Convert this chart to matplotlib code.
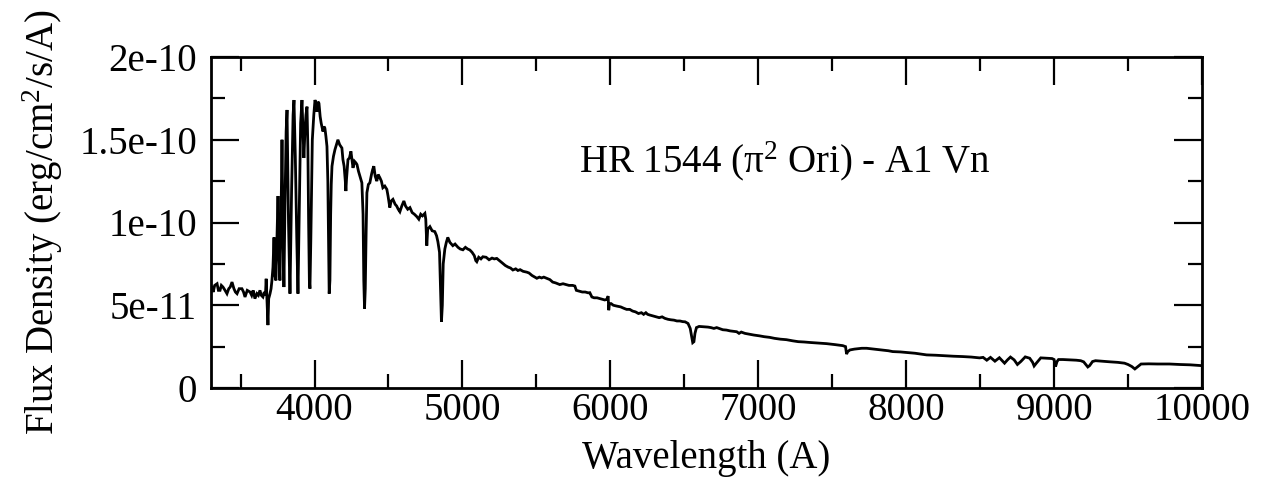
import matplotlib
matplotlib.use("Agg")
import matplotlib.pyplot as plt
from matplotlib.ticker import FixedLocator, MultipleLocator

plt.rcParams['font.family'] = ['Liberation Serif', 'DejaVu Serif']
plt.rcParams['mathtext.fontset'] = 'custom'
plt.rcParams['mathtext.rm'] = 'Liberation Serif'
plt.rcParams['mathtext.it'] = 'Liberation Serif:italic'

# Wavelength (Angstrom) and flux density (units of 1e-11 erg/cm^2/s/A)
wavelength = [
    3300, 3307, 3315, 3325, 3341, 3350, 3361, 3370, 3381, 3395, 3408, 3420, 3430, 3442, 3455, 3465,
    3476, 3490, 3509, 3520, 3530, 3545, 3564, 3575, 3585, 3597, 3610, 3620, 3631, 3640, 3651, 3660,
    3668, 3673, 3678, 3685, 3690, 3699, 3706, 3712, 3719, 3726, 3732, 3739, 3746, 3753, 3760, 3766,
    3773, 3780, 3786, 3793, 3800, 3808, 3814, 3824, 3834, 3845, 3855, 3861, 3870, 3880, 3888, 3897,
    3906, 3915, 3922, 3928, 3935, 3942, 3949, 3955, 3960, 3965, 3969, 3975, 3985, 3995, 4003, 4010,
    4016, 4023, 4030, 4038, 4045, 4057, 4064, 4070, 4077, 4084, 4090, 4095, 4099, 4104, 4109, 4113,
    4118, 4128, 4138, 4148, 4158, 4170, 4185, 4192, 4200, 4208, 4212, 4216, 4226, 4236, 4246, 4253,
    4260, 4270, 4280, 4287, 4297, 4307, 4320, 4328, 4333, 4338, 4343, 4349, 4354, 4364, 4374, 4385,
    4393, 4401, 4410, 4421, 4430, 4442, 4452, 4462, 4475, 4489, 4497, 4509, 4518, 4530, 4545, 4555,
    4566, 4577, 4590, 4604, 4615, 4630, 4645, 4660, 4675, 4692, 4705, 4718, 4730, 4746, 4752, 4759,
    4765, 4780, 4795, 4813, 4825, 4834, 4845, 4852, 4858, 4864, 4870, 4881, 4891, 4901, 4915, 4935,
    4950, 4970, 4985, 5003, 5020, 5035, 5050, 5065, 5080, 5090, 5097, 5110, 5125, 5138, 5160, 5180,
    5200, 5215, 5232, 5250, 5270, 5290, 5310, 5325, 5341, 5360, 5375, 5390, 5410, 5435, 5450, 5470,
    5490, 5503, 5520, 5535, 5550, 5577, 5591, 5610, 5630, 5658, 5680, 5700, 5720, 5745, 5760, 5770,
    5790, 5810, 5830, 5850, 5861, 5875, 5890, 5910, 5930, 5950, 5962, 5975, 5985, 5989, 5994, 6005,
    6020, 6043, 6070, 6090, 6110, 6131, 6150, 6170, 6190, 6210, 6225, 6240, 6252, 6266, 6290, 6310,
    6330, 6350, 6368, 6390, 6410, 6430, 6450, 6470, 6489, 6505, 6525, 6540, 6550, 6557, 6565, 6572,
    6582, 6600, 6618, 6640, 6660, 6680, 6700, 6719, 6740, 6760, 6785, 6810, 6835, 6854, 6870, 6885,
    6910, 6940, 6970, 7009, 7040, 7077, 7110, 7150, 7190, 7233, 7270, 7310, 7350, 7400, 7462, 7520,
    7571, 7590, 7597, 7605, 7620, 7650, 7700, 7733, 7780, 7830, 7880, 7909, 7960, 8000, 8060, 8138,
    8200, 8260, 8320, 8380, 8440, 8496, 8520, 8545, 8570, 8600, 8630, 8665, 8685, 8705, 8730, 8752,
    8775, 8805, 8835, 8855, 8865, 8880, 8910, 8950, 8986, 9000, 9010, 9020, 9030, 9060, 9100, 9150,
    9180, 9200, 9228, 9240, 9260, 9280, 9320, 9380, 9430, 9476, 9500, 9525, 9546, 9560, 9588, 9640,
    9700, 9780, 9850, 9920, 10000,
]
flux = [
    6.1, 6.1, 5.8, 6.2, 6.3, 5.9, 5.9, 6.2, 6.1, 5.9, 5.7, 6.0, 6.1, 6.4, 6.0, 5.8,
    5.7, 6.0, 6.0, 5.8, 5.5, 5.9, 5.8, 5.6, 5.9, 5.4, 5.7, 5.6, 5.9, 5.6, 5.5, 5.8,
    5.6, 6.6, 5.5, 3.8, 5.4, 5.7, 6.0, 6.5, 7.3, 9.1, 6.8, 6.5, 9.0, 11.6, 8.0, 6.5,
    10.0, 15.0, 10.0, 6.1, 11.0, 15.5, 16.8, 10.0, 5.7, 12.0, 16.5, 17.4, 14.0, 9.0, 5.7, 11.0,
    16.0, 17.4, 15.5, 13.9, 15.5, 16.5, 17.0, 14.5, 10.0, 6.5, 6.0, 9.0, 15.0, 16.5, 17.4, 17.2,
    16.7, 17.3, 17.2, 16.4, 16.0, 15.5, 15.8, 15.7, 15.2, 14.6, 12.5, 9.0, 5.7, 6.5, 10.5, 12.3,
    13.4, 14.0, 14.4, 14.7, 15.0, 14.7, 14.5, 13.8, 13.4, 12.5, 11.9, 12.6, 13.8, 13.9, 14.3, 13.8,
    13.3, 13.7, 13.6, 13.5, 13.1, 12.8, 12.4, 10.5, 6.5, 4.8, 6.0, 9.5, 11.8, 12.3, 12.4, 12.9,
    13.2, 13.4, 12.8, 12.5, 12.9, 12.7, 12.5, 12.1, 12.2, 12.0, 11.6, 10.9, 11.3, 11.4, 11.1, 11.0,
    10.8, 10.65, 11.0, 11.3, 11.0, 10.8, 10.9, 10.6, 10.5, 10.35, 10.2, 10.5, 10.4, 10.55, 10.2, 8.6,
    9.6, 9.75, 9.5, 9.45, 9.2, 8.84, 8.2, 6.0, 4.0, 5.0, 7.5, 8.4, 8.8, 9.1, 8.8, 8.6,
    8.7, 8.5, 8.4, 8.35, 8.5, 8.4, 8.34, 8.2, 8.0, 7.7, 7.63, 7.9, 7.8, 7.93, 7.9, 7.75,
    7.85, 7.8, 7.83, 7.7, 7.55, 7.4, 7.3, 7.25, 7.13, 7.2, 7.1, 7.15, 7.05, 7.0, 6.95, 6.8,
    6.7, 6.63, 6.7, 6.65, 6.7, 6.6, 6.55, 6.4, 6.35, 6.25, 6.3, 6.25, 6.2, 6.2, 6.16, 5.9,
    5.85, 5.8, 5.8, 5.75, 5.76, 5.5, 5.45, 5.45, 5.4, 5.35, 5.32, 5.35, 5.55, 4.7, 5.1, 5.1,
    5.0, 4.95, 4.9, 4.82, 4.75, 4.75, 4.65, 4.6, 4.5, 4.55, 4.45, 4.55, 4.45, 4.41, 4.35, 4.3,
    4.25, 4.3, 4.21, 4.15, 4.12, 4.1, 4.05, 4.05, 4.01, 4.0, 3.9, 3.6, 3.1, 2.74, 2.8, 3.3,
    3.65, 3.72, 3.71, 3.7, 3.68, 3.65, 3.6, 3.65, 3.58, 3.52, 3.5, 3.45, 3.42, 3.40, 3.3, 3.38,
    3.3, 3.25, 3.2, 3.15, 3.1, 3.06, 3.0, 2.95, 2.92, 2.85, 2.8, 2.78, 2.75, 2.72, 2.68, 2.62,
    2.56, 2.5, 2.05, 2.2, 2.3, 2.35, 2.4, 2.4, 2.35, 2.3, 2.25, 2.2, 2.18, 2.15, 2.1, 2.0,
    1.98, 1.95, 1.92, 1.9, 1.87, 1.82, 1.85, 1.68, 1.85, 1.62, 1.83, 1.5, 1.7, 1.87, 1.7, 1.42,
    1.6, 1.88, 1.8, 1.55, 1.33, 1.5, 1.82, 1.8, 1.78, 1.72, 1.3, 1.6, 1.72, 1.72, 1.7, 1.68,
    1.65, 1.58, 1.27, 1.35, 1.6, 1.65, 1.62, 1.58, 1.55, 1.5, 1.42, 1.3, 1.15, 1.25, 1.45, 1.46,
    1.45, 1.45, 1.42, 1.4, 1.35,
]

x_major = [4000, 5000, 6000, 7000, 8000, 9000, 10000]
x_labels = ['4000', '5000', '6000', '7000', '8000', '9000', '10000']
y_major = [0, 5e-11, 1e-10, 1.5e-10, 2e-10]
y_labels = ['0', '5e-11', '1e-10', '1.5e-10', '2e-10']

fig = plt.figure(figsize=(12.69, 4.87), dpi=100)
ax = fig.add_axes([211 / 1269, 1 - 388 / 487, (1202 - 211) / 1269, (388 - 57) / 487])

ax.plot(wavelength, [f * 1e-11 for f in flux], color='black', lw=2.0, solid_joinstyle='miter')

ax.set_xlim(3300, 10000)
ax.set_ylim(0, 2e-10)
ax.xaxis.set_major_locator(FixedLocator(x_major))
ax.set_xticklabels(x_labels)
ax.xaxis.set_minor_locator(MultipleLocator(500))
ax.yaxis.set_major_locator(FixedLocator(y_major))
ax.set_yticklabels(y_labels)
ax.yaxis.set_minor_locator(MultipleLocator(2.5e-11))

ax.tick_params(which='both', direction='in', top=True, right=True, width=1.6, labelsize=28)
ax.tick_params(which='major', length=20)
ax.tick_params(which='minor', length=10)
ax.tick_params(axis='x', pad=3)
ax.tick_params(axis='y', pad=10)
for s in ax.spines.values():
    s.set_linewidth(2.0)

ax.set_xlabel('Wavelength (A)', fontsize=28, labelpad=8)
ax.set_ylabel('Flux Density (erg/cm$^2$/s/A)', fontsize=28, labelpad=10)

ax.text(5790, 1.30e-10, 'HR 1544 (\u03c0$^2$ Ori) - A1 Vn', fontsize=28, ha='left', va='baseline')

fig.savefig('out.png', dpi=100)
